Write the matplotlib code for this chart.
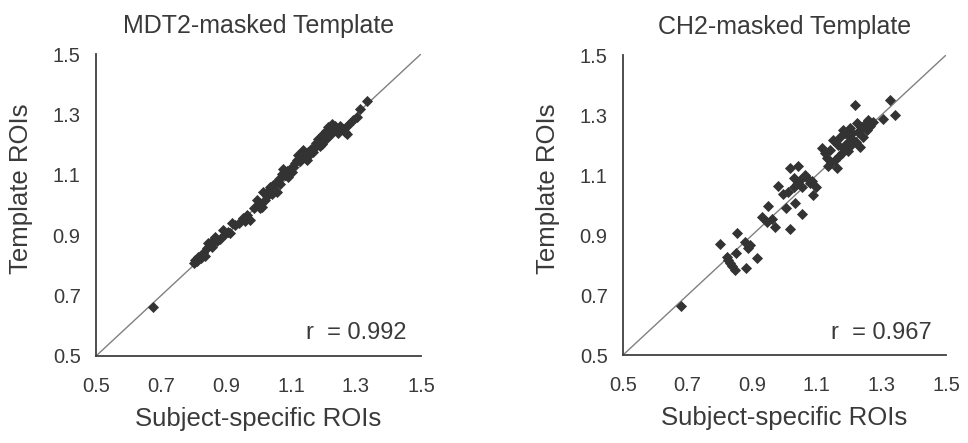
import matplotlib

matplotlib.use("Agg")
import matplotlib.pyplot as plt

plt.rcParams["font.family"] = ["Liberation Sans", "DejaVu Sans"]

# MDT2-masked template: subject-specific ROI (x) vs template ROI (y)
mdt2_x = [
    0.674, 0.800, 0.806, 0.812, 0.815, 0.822, 0.830, 0.836, 0.842, 0.846,
    0.851, 0.856, 0.860, 0.866, 0.872, 0.880, 0.892, 0.898, 0.905, 0.912,
    0.918, 0.928, 0.940, 0.953, 0.958, 0.964, 0.974, 0.985, 0.995, 1.000,
    1.005, 1.010, 1.015, 1.020, 1.026, 1.030, 1.035, 1.040, 1.045, 1.051,
    1.056, 1.062, 1.066, 1.071, 1.076, 1.082, 1.088, 1.092, 1.098, 1.102,
    1.107, 1.112, 1.118, 1.123, 1.128, 1.132, 1.138, 1.142, 1.148, 1.153,
    1.158, 1.163, 1.168, 1.174, 1.178, 1.184, 1.188, 1.194, 1.199, 1.204,
    1.209, 1.215, 1.220, 1.225, 1.230, 1.235, 1.240, 1.246, 1.252, 1.261,
    1.266, 1.271, 1.276, 1.290, 1.302, 1.312, 1.333,
]
mdt2_y = [
    0.663, 0.809, 0.818, 0.814, 0.829, 0.826, 0.840, 0.832, 0.858, 0.873,
    0.866, 0.862, 0.884, 0.895, 0.880, 0.888, 0.917, 0.905, 0.912, 0.906,
    0.939, 0.934, 0.942, 0.956, 0.948, 0.967, 0.950, 0.990, 1.016, 1.003,
    0.990, 0.994, 1.044, 1.018, 1.030, 1.048, 1.060, 1.036, 1.066, 1.071,
    1.044, 1.086, 1.070, 1.104, 1.120, 1.098, 1.112, 1.093, 1.120, 1.108,
    1.126, 1.140, 1.150, 1.165, 1.146, 1.170, 1.181, 1.160, 1.148, 1.176,
    1.170, 1.185, 1.176, 1.192, 1.205, 1.220, 1.196, 1.203, 1.236, 1.216,
    1.245, 1.258, 1.232, 1.269, 1.250, 1.262, 1.247, 1.238, 1.260, 1.253,
    1.242, 1.236, 1.264, 1.280, 1.291, 1.319, 1.346,
]

# CH2-masked template
ch2_x = [
    0.679, 0.800, 0.852, 0.823, 0.831, 0.847, 0.881, 0.916, 0.849, 0.878,
    0.893, 0.886, 0.826, 0.838, 0.929, 0.945, 0.971, 0.950, 1.017, 1.004,
    1.053, 0.981, 0.996, 1.017, 1.043, 1.028, 1.033, 1.048, 1.063, 1.079,
    1.089, 1.099, 1.028, 1.040, 1.055, 1.070, 1.085, 1.012, 0.960, 1.115,
    1.141, 1.130, 1.161, 1.156, 1.151, 1.172, 1.187, 1.192, 1.203, 1.213,
    1.218, 1.223, 1.234, 1.244, 1.254, 1.259, 1.275, 1.306, 1.327, 1.342,
    1.177, 1.145, 1.166, 1.180, 1.195, 1.200, 1.210, 1.220, 1.228, 1.238,
    1.182, 1.170, 1.250, 1.265, 1.205, 1.125, 1.135,
]
ch2_y = [
    0.664, 0.870, 0.908, 0.828, 0.806, 0.783, 0.789, 0.822, 0.841, 0.878,
    0.867, 0.858, 0.818, 0.796, 0.961, 0.944, 0.928, 0.997, 0.920, 0.989,
    0.970, 1.064, 1.036, 1.122, 1.130, 1.061, 1.006, 1.083, 1.100, 1.072,
    1.033, 1.061, 1.089, 1.070, 1.060, 1.090, 1.080, 1.045, 0.955, 1.189,
    1.183, 1.156, 1.122, 1.150, 1.217, 1.228, 1.239, 1.206, 1.256, 1.217,
    1.333, 1.272, 1.194, 1.228, 1.250, 1.283, 1.278, 1.287, 1.350, 1.300,
    1.172, 1.140, 1.200, 1.190, 1.180, 1.230, 1.240, 1.210, 1.245, 1.260,
    1.250, 1.165, 1.270, 1.265, 1.200, 1.175, 1.130,
]

panels = [
    ("MDT2-masked Template", mdt2_x, mdt2_y, "r  = 0.992"),
    ("CH2-masked Template", ch2_x, ch2_y, "r  = 0.967"),
]
ticks = [0.5, 0.7, 0.9, 1.1, 1.3, 1.5]
tick_labels = ["0.5", "0.7", "0.9", "1.1", "1.3", "1.5"]

text_color = "#3a3a3a"
fig = plt.figure(figsize=(9.68, 4.43), dpi=100, facecolor="white")
# axes boxes in figure fractions (left, bottom, width, height)
boxes = [(0.0992, 0.1964, 0.3357, 0.6817), (0.6436, 0.1986, 0.3337, 0.6772)]

for (title, xs, ys, r_text), box in zip(panels, boxes):
    ax = fig.add_axes(box)
    ax.plot([0.5, 1.5], [0.5, 1.5], color="#808080", linewidth=1.0, zorder=1)
    ax.scatter(xs, ys, marker="D", s=32, color="#333333", linewidths=0, zorder=2)
    ax.set_xlim(0.5, 1.5)
    ax.set_ylim(0.5, 1.5)
    ax.set_xticks(ticks, tick_labels)
    ax.set_yticks(ticks, tick_labels)
    ax.tick_params(axis="x", length=0, pad=15, labelsize=14.5, labelcolor=text_color)
    ax.tick_params(axis="y", length=0, pad=11, labelsize=14.5, labelcolor=text_color)
    for spine in ("top", "right"):
        ax.spines[spine].set_visible(False)
    for spine in ("left", "bottom"):
        ax.spines[spine].set_color("#404040")
        ax.spines[spine].set_linewidth(1.3)
    ax.set_title(title, fontsize=18, color=text_color, pad=15)
    ax.set_xlabel("Subject-specific ROIs", fontsize=18.5, color=text_color, labelpad=8)
    ax.set_ylabel("Template ROIs", fontsize=18.5, color=text_color)
    ax.yaxis.set_label_coords(-0.195, 0.553)
    ax.text(1.455, 0.575, r_text, fontsize=17, color=text_color, ha="right", va="center")

fig.savefig("out.png", dpi=100, facecolor=fig.get_facecolor())
